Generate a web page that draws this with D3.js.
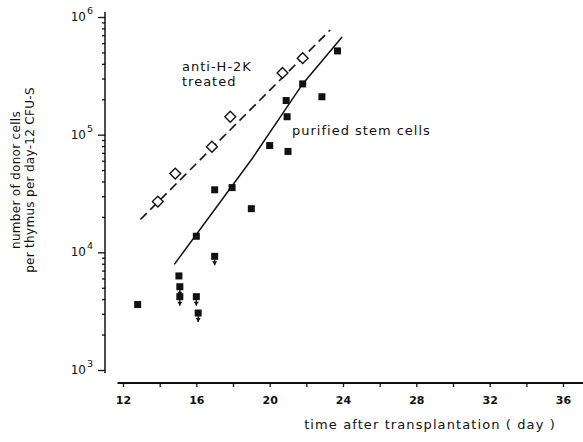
<html>
<head>
<script src="https://d3js.org/d3.v7.min.js"></script>
<style>
body { margin: 0; background: #fff; }
text { font-family: "DejaVu Sans", sans-serif; fill: #111; }
</style>
</head>
<body>
<svg id="chart" width="583" height="442"></svg>
<script>
// purified stem cells (filled squares)
var stemDays  = [12.8, 15.05, 16.0, 17.0, 17.95, 19.0, 20.0, 20.9, 20.95, 21.0, 21.8, 22.85, 23.7];
var stemCells = [3600, 6300, 13700, 34000, 35500, 23500, 80800, 195000, 142000, 72000, 270000, 210000, 515000];
// below detection (square with down arrow)
var lowDays  = [15.1, 15.1, 16.0, 16.1, 17.0];
var lowCells = [5100, 4200, 4200, 3050, 9250];
// anti-H-2K treated (open diamonds)
var antiDays  = [13.9, 14.85, 16.85, 17.85, 20.7, 21.8];
var antiCells = [27000, 46700, 79000, 142000, 335000, 447000];
// hand drawn fit lines
var stemFitDays  = [14.8, 19.05, 21.8, 23.95];
var stemFitCells = [7900, 62700, 270000, 676000];
var antiFitDays  = [12.95, 23.3];
var antiFitCells = [19000, 776000];

var xTicks = [12,14,16,18,20,22,24,26,28,30,32,34,36];
var yMajor = [1e3, 1e4, 1e5, 1e6];
var yExp   = ["3", "4", "5", "6"];

var svg = d3.select("#chart");
var x = d3.scaleLinear().domain([12, 36]).range([123, 563]);
var y = d3.scaleLog().domain([1e3, 1e6]).range([370, 17]);

// x axis
var gx = svg.append("g").attr("transform", "translate(0,383)")
  .call(d3.axisBottom(x).tickValues(xTicks).tickSize(4).tickPadding(9)
    .tickFormat(function(d) { return d % 4 == 0 ? d : ""; }));
gx.select(".domain").remove();
gx.append("line").attr("x1", x(11.7)).attr("x2", x(37.2))
  .attr("stroke", "#111").attr("stroke-width", 2);
gx.selectAll(".tick line").attr("stroke", "#111").attr("stroke-width", 1.5);
gx.selectAll(".tick text").attr("font-size", 11).attr("font-weight", "bold").style("fill", "#111");

// y axis
var yMinor = [];
for (var e = 3; e < 6; e++) for (var m = 2; m < 10; m++) yMinor.push(m * Math.pow(10, e));
var gy = svg.append("g").attr("transform", "translate(105,0)");
gy.call(d3.axisLeft(y).tickValues(yMinor).tickSize(3).tickFormat(""));
gy.select(".domain").remove();
var gyM = svg.append("g").attr("transform", "translate(105,0)")
  .call(d3.axisLeft(y).tickValues(yMajor).tickSize(7).tickFormat(""));
gyM.select(".domain").remove();
svg.append("line").attr("x1", 105).attr("x2", 105)
  .attr("y1", y(1e6) - 5).attr("y2", y(1e3) + 3)
  .attr("stroke", "#111").attr("stroke-width", 1.5);
svg.selectAll(".tick line").attr("stroke", "#111").attr("stroke-width", 1.3);

yMajor.forEach(function(v, i) {
  svg.append("text").attr("x", 86).attr("y", y(v) + 4)
    .attr("text-anchor", "end").attr("font-size", 12).text("10");
  svg.append("text").attr("x", 87).attr("y", y(v) - 3)
    .attr("font-size", 9.5).text(yExp[i]);
});

// fit lines
var line = d3.line().x(function(d) { return x(d[0]); }).y(function(d) { return y(d[1]); });
svg.append("path").datum(d3.zip(antiFitDays, antiFitCells)).attr("d", line)
  .attr("fill", "none").attr("stroke", "#111").attr("stroke-width", 1.6)
  .attr("stroke-dasharray", "9,5");
svg.append("path").datum(d3.zip(stemFitDays, stemFitCells)).attr("d", line)
  .attr("fill", "none").attr("stroke", "#111").attr("stroke-width", 1.5);

// diamonds
svg.selectAll(".dia").data(d3.zip(antiDays, antiCells)).enter().append("path")
  .attr("class", "dia")
  .attr("d", d3.symbol().type(d3.symbolDiamond2).size(75))
  .attr("transform", function(d) { return "translate(" + x(d[0]) + "," + y(d[1]) + ")"; })
  .attr("fill", "#fff").attr("stroke", "#111").attr("stroke-width", 1.4);

// squares
svg.selectAll(".sq").data(d3.zip(stemDays, stemCells)).enter().append("rect")
  .attr("class", "sq")
  .attr("x", function(d) { return x(d[0]) - 3.5; })
  .attr("y", function(d) { return y(d[1]) - 3.5; })
  .attr("width", 7).attr("height", 7).attr("fill", "#111");

// squares with down arrow
var low = svg.selectAll(".low").data(d3.zip(lowDays, lowCells)).enter().append("g")
  .attr("class", "low")
  .attr("transform", function(d) { return "translate(" + x(d[0]) + "," + y(d[1]) + ")"; });
low.append("rect").attr("x", -3.5).attr("y", -3.5).attr("width", 7).attr("height", 7).attr("fill", "#111");
low.append("line").attr("x1", 0).attr("x2", 0).attr("y1", 3).attr("y2", 9)
  .attr("stroke", "#111").attr("stroke-width", 1.3);
low.append("path").attr("d", "M-2.5,5L2.5,5L0,9Z").attr("fill", "#111");

// labels
svg.append("text").attr("x", 182).attr("y", 71).attr("font-size", 13).attr("letter-spacing", 1).text("anti-H-2K");
svg.append("text").attr("x", 182).attr("y", 86).attr("font-size", 13).attr("letter-spacing", 1).text("treated");
svg.append("text").attr("x", 292).attr("y", 135).attr("font-size", 13).attr("letter-spacing", 1).text("purified stem cells");

svg.append("text").attr("transform", "translate(20,180) rotate(-90)")
  .attr("text-anchor", "middle").attr("font-size", 12).attr("letter-spacing", 0.3).text("number of donor cells");
svg.append("text").attr("transform", "translate(34,180) rotate(-90)")
  .attr("text-anchor", "middle").attr("font-size", 12).attr("letter-spacing", 0.3).text("per thymus per day-12 CFU-S");

svg.append("text").attr("x", 430).attr("y", 429).attr("text-anchor", "middle")
  .attr("font-size", 13).attr("letter-spacing", 1.1).text("time after transplantation ( day )");
</script>
</body>
</html>
